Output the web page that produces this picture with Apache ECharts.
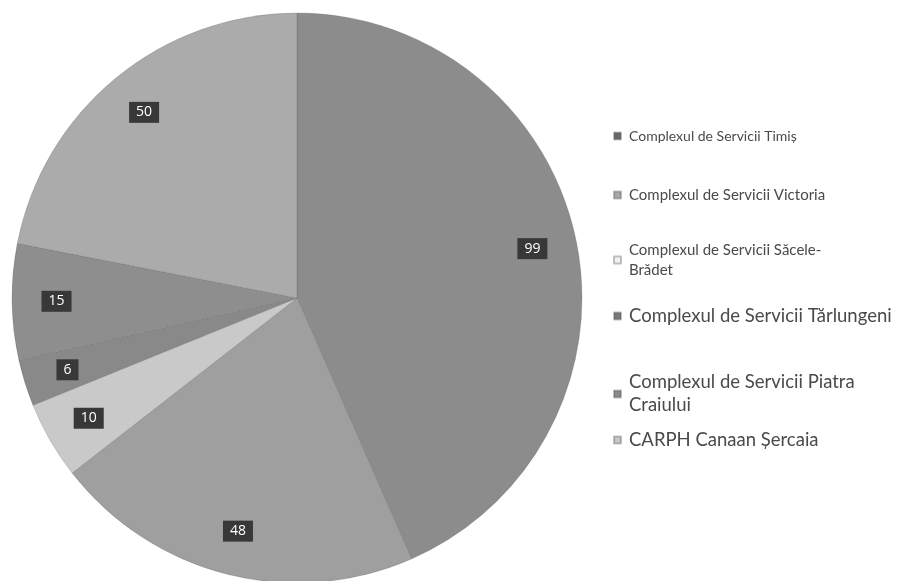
<!DOCTYPE html>
<html>
<head>
<meta charset="utf-8">
<script src="https://cdn.jsdelivr.net/npm/echarts@6/dist/echarts.min.js"></script>
<style>html,body{margin:0;padding:0;background:#fff;}#c{width:898px;height:581px;}</style>
</head>
<body>
<div id="c"></div>
<script>
const categories = [
  'Complexul de Servicii Timiș',
  'Complexul de Servicii Victoria',
  'Complexul de Servicii Săcele-Brădet',
  'Complexul de Servicii Tărlungeni',
  'Complexul de Servicii Piatra Craiului',
  'CARPH Canaan Șercaia'
];
const values = [99, 48, 10, 6, 15, 50];
const legendLabels = [
  'Complexul de Servicii Timiș',
  'Complexul de Servicii Victoria',
  'Complexul de Servicii Săcele-\nBrădet',
  'Complexul de Servicii Tărlungeni',
  'Complexul de Servicii Piatra\nCraiului',
  'CARPH Canaan Șercaia'
];
const colors = ['#8c8c8c', '#9f9f9f', '#c9c9c9', '#898989', '#8e8e8e', '#ababab'];
const legendIconColors = ['#6a6a6a', '#a8a8a8', '#f2f2f2', '#7a7a7a', '#8a8a8a', '#c8c8c8'];
const legendTops = [121, 180, 235, 300, 366, 424];
const legendFontSizes = [14, 15, 15, 18.5, 18.5, 18.5];
const legendLineHeights = [20, 20, 20, 22, 23, 22];

const chart = echarts.init(document.getElementById('c'));
const data = categories.map((n, i) => ({ name: n, value: values[i] }));
const legends = categories.map((n, i) => ({
  data: [{ name: n, itemStyle: { color: legendIconColors[i] } }],
  left: 608,
  top: legendTops[i],
  orient: 'vertical',
  itemWidth: 7,
  itemHeight: 7,
  icon: 'rect',
  selectedMode: false,
  formatter: () => legendLabels[i],
  textStyle: {
    fontFamily: 'Lato',
    fontSize: legendFontSizes[i],
    lineHeight: legendLineHeights[i],
    color: '#4a4a4a',
    padding: [0, 0, 0, 3]
  }
}));
chart.setOption({
  animation: false,
  color: colors,
  legend: legends,
  series: [
    {
      type: 'pie',
      center: [297, 298],
      radius: [0, 285],
      startAngle: 90,
      clockwise: true,
      data: data,
      label: { show: false },
      labelLine: { show: false },
      itemStyle: { borderColor: 'rgba(80,80,80,0.35)', borderWidth: 0.6 },
      silent: true
    },
    {
      type: 'pie',
      center: [297, 298],
      radius: [190, 285],
      startAngle: 90,
      clockwise: true,
      data: data,
      silent: true,
      itemStyle: { color: 'rgba(0,0,0,0)' },
      label: {
        show: true,
        position: 'inside',
        formatter: '{c}',
        color: '#fff',
        fontFamily: 'Open Sans',
        fontSize: 14,
        backgroundColor: '#383838',
        padding: [4, 7, 3, 7]
      },
      labelLine: { show: false }
    }
  ]
});
</script>
</body>
</html>
